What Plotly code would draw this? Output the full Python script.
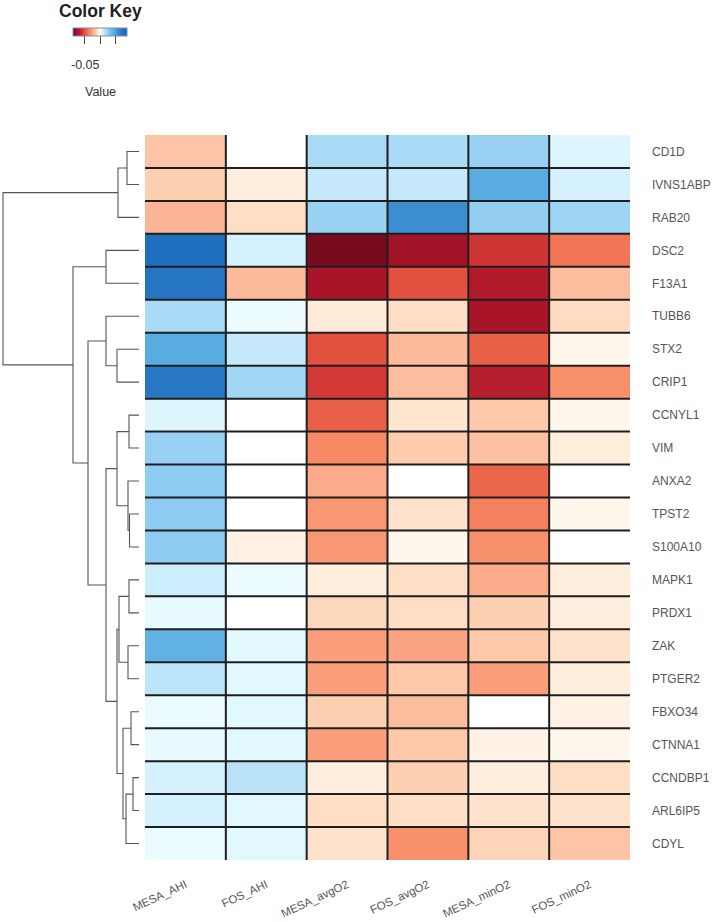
import plotly.graph_objects as go

# ---------------- data ----------------
genes = ["CD1D", "IVNS1ABP", "RAB20", "DSC2", "F13A1", "TUBB6", "STX2", "CRIP1",
         "CCNYL1", "VIM", "ANXA2", "TPST2", "S100A10", "MAPK1", "PRDX1", "ZAK",
         "PTGER2", "FBXO34", "CTNNA1", "CCNDBP1", "ARL6IP5", "CDYL"]
traits = ["MESA_AHI", "FOS_AHI", "MESA_avgO2", "FOS_avgO2", "MESA_minO2", "FOS_minO2"]

mesa_ahi = [-0.015, -0.012, -0.019, 0.075, 0.072, 0.020, 0.045, 0.070, 0.006, 0.025, 0.027,
            0.027, 0.027, 0.010, 0.004, 0.042, 0.014, 0.003, 0.004, 0.008, 0.008, 0.003]
fos_ahi = [0.000, -0.004, -0.008, 0.008, -0.018, 0.003, 0.012, 0.022, 0.000, 0.000, 0.000,
           0.000, -0.003, 0.003, 0.000, 0.005, 0.005, 0.005, 0.005, 0.015, 0.005, 0.005]
mesa_avgo2 = [0.020, 0.012, 0.024, -0.085, -0.070, -0.005, -0.050, -0.057, -0.045, -0.032, -0.022,
              -0.028, -0.028, -0.004, -0.010, -0.026, -0.026, -0.012, -0.026, -0.004, -0.008, -0.007]
fos_avgo2 = [0.020, 0.012, 0.058, -0.072, -0.050, -0.008, -0.018, -0.017, -0.006, -0.013, 0.000,
             -0.007, -0.002, -0.008, -0.008, -0.024, -0.014, -0.017, -0.014, -0.012, -0.008, -0.030]
mesa_mino2 = [0.025, 0.045, 0.026, -0.058, -0.068, -0.070, -0.045, -0.066, -0.014, -0.016, -0.043,
              -0.035, -0.030, -0.022, -0.012, -0.014, -0.026, 0.000, -0.003, -0.004, -0.007, -0.011]
fos_mino2 = [0.006, 0.008, 0.023, -0.038, -0.017, -0.009, -0.002, -0.030, -0.002, -0.004, 0.000,
             -0.002, 0.000, -0.004, -0.004, -0.007, -0.004, -0.003, -0.002, -0.008, -0.007, -0.015]

# row dendrogram (linkage style): leaves 0..21, merge k creates node 22+k
merge_a = [0, 22, 3, 6, 5, 8, 11, 10, 27, 13, 15, 31, 17, 19, 35, 34, 33, 30, 26, 24, 23]
merge_b = [1, 2, 4, 7, 25, 9, 12, 28, 29, 14, 16, 32, 18, 20, 21, 36, 37, 38, 39, 40, 41]
merge_h = [0.12, 0.21, 0.33, 0.22, 0.33, 0.10, 0.095, 0.11, 0.22, 0.10, 0.11, 0.20,
           0.08, 0.06, 0.13, 0.16, 0.22, 0.33, 0.51, 0.66, 1.36]

key_ticks = [-0.05, 0.0, 0.05]
key_ticktext = ["-0.05", "", ""]

# ---------------- figure ----------------
W, H = 714, 922
zmin, zmax = -0.087, 0.087
cols = [mesa_ahi, fos_ahi, mesa_avgo2, fos_avgo2, mesa_mino2, fos_mino2]
z = [[cols[j][i] for j in range(len(traits))] for i in range(len(genes))]

anchor_vals = [-0.087, -0.085, -0.070, -0.058, -0.050, -0.040, -0.030, -0.020, -0.012, -0.006,
               -0.002, 0.0, 0.004, 0.008, 0.014, 0.022, 0.030, 0.045, 0.060, 0.075, 0.087]
anchor_cols = ["#6e0a1c", "#780b1e", "#aa1428", "#d03535", "#e2503f", "#f07050", "#f8906c",
               "#fcb292", "#fdd0b2", "#fee6d0", "#fff6ec", "#ffffff", "#e6faff", "#d4f1fd",
               "#bde5fa", "#a2d6f5", "#84c6ee", "#58ace0", "#3888d0", "#2070c0", "#1a60b0"]
colorscale = [[(v - zmin) / (zmax - zmin), c] for v, c in zip(anchor_vals, anchor_cols)]

hx0, hx1 = 145, 630
hy0, hy1 = 135, 860
xdom = [hx0 / W, hx1 / W]
ydom = [1 - hy1 / H, 1 - hy0 / H]

fig = go.Figure()
fig.add_trace(go.Heatmap(
    z=z, x=list(range(len(traits))), y=list(range(len(genes))),
    zmin=zmin, zmax=zmax, colorscale=colorscale, xaxis="x", yaxis="y",
    hoverinfo="skip",
    colorbar=dict(orientation="h", x=100 / W, xanchor="center", y=1 - 28 / H, yanchor="top",
                  len=54, lenmode="pixels", thickness=8, thicknessmode="pixels",
                  outlinewidth=1, outlinecolor="#8090a8", xpad=0, ypad=0,
                  tickvals=key_ticks, ticktext=key_ticktext, ticks="outside", ticklen=8,
                  tickcolor="#444", tickwidth=1, showticklabels=False)))

# dendrogram from the linkage
n = len(genes)
ypos = {i: float(i) for i in range(n)}
hpos = {i: 0.0 for i in range(n)}
dx, dy = [], []
for k, (a, b, h) in enumerate(zip(merge_a, merge_b, merge_h)):
    node = n + k
    dx += [hpos[a], h, h, hpos[b], None]
    dy += [ypos[a], ypos[a], ypos[b], ypos[b], None]
    ypos[node] = (ypos[a] + ypos[b]) / 2
    hpos[node] = h
fig.add_trace(go.Scatter(x=dx, y=dy, mode="lines", line=dict(color="#555555", width=1.1),
                         xaxis="x2", yaxis="y2", hoverinfo="skip", showlegend=False))

# cell borders
shapes = []
for j in range(1, len(traits)):
    shapes.append(dict(type="line", xref="x", yref="y", x0=j - 0.5, x1=j - 0.5,
                       y0=-0.56, y1=n - 0.5, line=dict(color="#1e1e1e", width=2)))
for i in range(1, n):
    shapes.append(dict(type="line", xref="x", yref="y", x0=-0.5, x1=len(traits) - 0.5,
                       y0=i - 0.5, y1=i - 0.5, line=dict(color="#1e1e1e", width=2)))

font = "Liberation Sans, Arial, sans-serif"
annotations = [
    dict(text="<b>Color Key</b>", x=100 / W, y=1 - 11 / H, xref="paper", yref="paper",
         showarrow=False, xanchor="center", yanchor="middle",
         font=dict(size=17.5, color="#222", family=font)),
    dict(text="-0.05", x=85 / W, y=1 - 65 / H, xref="paper", yref="paper",
         showarrow=False, xanchor="center", yanchor="middle",
         font=dict(size=12.5, color="#333", family=font)),
    dict(text="Value", x=100 / W, y=1 - 92 / H, xref="paper", yref="paper",
         showarrow=False, xanchor="center", yanchor="middle",
         font=dict(size=12.5, color="#333", family=font)),
]

fig.update_layout(
    width=W, height=H, margin=dict(l=0, r=0, t=0, b=0),
    paper_bgcolor="white", plot_bgcolor="white", showlegend=False,
    font=dict(family=font, color="#555"),
    shapes=shapes, annotations=annotations,
    xaxis=dict(domain=xdom, range=[-0.5, len(traits) - 0.5], tickvals=list(range(len(traits))),
               ticktext=traits, tickangle=-25, showgrid=False, zeroline=False, showline=False,
               ticks="", tickfont=dict(size=11.5, color="#555"), ticklabelstandoff=15,
               automargin=False, fixedrange=True),
    yaxis=dict(domain=ydom, range=[n - 0.5, -0.5], tickvals=list(range(n)), ticktext=genes,
               side="right", showgrid=False, zeroline=False, showline=False, ticks="",
               tickfont=dict(size=12, color="#555"), ticklabelstandoff=21,
               automargin=False, fixedrange=True),
    xaxis2=dict(domain=[0, 140 / W], range=[1.39, -0.01], visible=False, fixedrange=True),
    yaxis2=dict(domain=ydom, range=[n - 0.5, -0.5], visible=False, fixedrange=True,
                anchor="x2"),
)
fig.write_html("out.html", config={"displayModeBar": False},
               post_script="document.body.style.margin='0px';"
               "document.body.style.overflow='hidden';")
